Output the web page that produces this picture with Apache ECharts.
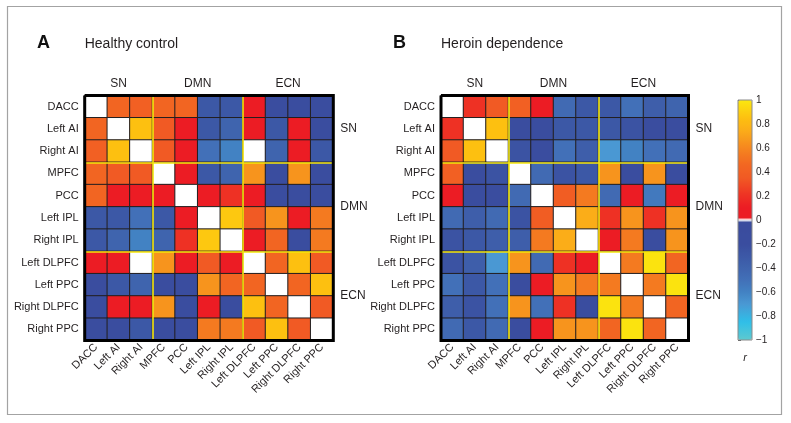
<!DOCTYPE html>
<html>
<head>
<meta charset="utf-8">
<script src="https://cdn.jsdelivr.net/npm/echarts@6/dist/echarts.min.js"></script>
<style>
html,body{margin:0;padding:0;background:#fff;}
#chart{width:791px;height:423px;}
</style>
</head>
<body>
<div id="chart"></div>
<script>
// ---------- DATA ----------
const regions = ['DACC','Left AI','Right AI','MPFC','PCC','Left IPL','Right IPL','Left DLPFC','Left PPC','Right DLPFC','Right PPC'];
const networks = ['SN','DMN','ECN'];
const networkSizes = [3,4,4];
const panelLetters = ['A','B'];
const panelTitles = ['Healthy control','Heroin dependence'];
const colorbarTicks = [-1,-0.8,-0.6,-0.4,-0.2,0,0.2,0.4,0.6,0.8,1];
const colorbarTitle = 'r';

// correlation matrices (rows top->bottom, cols left->right); 0 = white
const healthyControl = [
  [0, 0.45, 0.4, 0.45, 0.45, -0.3, -0.3, 0.1, -0.2, -0.2, -0.2],
  [0.45, 0, 0.85, 0.35, 0.1, -0.3, -0.4, 0.1, -0.3, 0.1, -0.2],
  [0.4, 0.85, 0, 0.35, 0.1, -0.5, -0.6, 0, -0.4, 0.1, -0.3],
  [0.45, 0.35, 0.35, 0, 0.1, -0.3, -0.4, 0.65, -0.2, 0.65, -0.2],
  [0.45, 0.1, 0.1, 0.1, 0, 0.1, 0.2, 0.1, -0.2, -0.2, -0.2],
  [-0.3, -0.3, -0.5, -0.3, 0.1, 0, 0.88, 0.35, 0.65, 0.1, 0.55],
  [-0.3, -0.4, -0.6, -0.4, 0.2, 0.88, 0, 0.1, 0.45, -0.2, 0.55],
  [0.1, 0.1, 0, 0.65, 0.1, 0.35, 0.1, 0, 0.45, 0.85, 0.35],
  [-0.2, -0.3, -0.4, -0.2, -0.2, 0.65, 0.45, 0.45, 0, 0.45, 0.85],
  [-0.2, 0.1, 0.1, 0.65, -0.2, 0.1, -0.2, 0.85, 0.45, 0, 0.35],
  [-0.2, -0.2, -0.3, -0.2, -0.2, 0.55, 0.55, 0.35, 0.85, 0.35, 0]
];
const heroinDependence = [
  [0, 0.2, 0.35, 0.4, 0.1, -0.45, -0.3, -0.3, -0.5, -0.35, -0.4],
  [0.2, 0, 0.85, -0.2, -0.2, -0.3, -0.3, -0.3, -0.25, -0.2, -0.2],
  [0.35, 0.85, 0, -0.25, -0.2, -0.5, -0.35, -0.7, -0.6, -0.5, -0.45],
  [0.4, -0.2, -0.25, 0, -0.45, -0.25, -0.3, 0.65, -0.2, 0.65, -0.2],
  [0.1, -0.2, -0.2, -0.45, 0, 0.38, 0.55, -0.45, 0.1, -0.55, 0.1],
  [-0.45, -0.35, -0.45, -0.25, 0.38, 0, 0.75, 0.2, 0.65, 0.2, 0.65],
  [-0.25, -0.3, -0.35, -0.35, 0.55, 0.75, 0, 0.1, 0.55, -0.2, 0.65],
  [-0.25, -0.35, -0.7, 0.65, -0.45, 0.2, 0.1, 0, 0.55, 0.98, 0.45],
  [-0.5, -0.3, -0.5, -0.2, 0.1, 0.65, 0.55, 0.55, 0, 0.55, 0.98],
  [-0.35, -0.25, -0.5, 0.65, -0.5, 0.2, -0.2, 0.98, 0.55, 0, 0.45],
  [-0.45, -0.3, -0.45, -0.2, 0.1, 0.65, 0.65, 0.45, 0.98, 0.45, 0]
];

// ---------- COLORMAP ----------
const cmapStops = [[-1,'#5ec9cf'],[-0.85,'#2fbfe8'],[-0.7,'#4a98d3'],[-0.6,'#4282c3'],[-0.5,'#4270b8'],[-0.4,'#3f64ae'],[-0.3,'#3c58a6'],[-0.2,'#3a4d9f'],[-0.01,'#3a4c9e'],[0,'#ffffff'],[0.01,'#ec1c24'],[0.1,'#ec1c24'],[0.2,'#ee3124'],[0.35,'#f15a24'],[0.45,'#f26522'],[0.55,'#f47a20'],[0.65,'#f7941d'],[0.75,'#fbad18'],[0.85,'#fdc010'],[1,'#fbe80f']];
function hex2rgb(h){return [parseInt(h.substr(1,2),16),parseInt(h.substr(3,2),16),parseInt(h.substr(5,2),16)];}
function cmap(v){
  for(let i=0;i<cmapStops.length-1;i++){
    const a=cmapStops[i], b=cmapStops[i+1];
    if(v>=a[0]-1e-9 && v<=b[0]+1e-9){
      const t=(b[0]===a[0])?0:(v-a[0])/(b[0]-a[0]);
      const ca=hex2rgb(a[1]), cb=hex2rgb(b[1]);
      const c=ca.map((x,k)=>Math.round(x+(cb[k]-x)*Math.max(0,Math.min(1,t))));
      return 'rgb('+c.join(',')+')';
    }
  }
  return cmapStops[cmapStops.length-1][1];
}
const cmapColors=[];
for(let k=0;k<=200;k++){cmapColors.push(cmap(Math.round((-1+k*0.01)*100)/100));}

// ---------- LAYOUT ----------
const FONT='"Liberation Sans", Arial, Helvetica, sans-serif';
const grids=[
  {left:84.7, top:95.5, width:248.6, height:245},
  {left:441, top:95.5, width:247.5, height:245}
];
const cbar={left:738, top:100, width:14, height:240};
const N=regions.length;

function toHeat(m){const d=[];for(let r=0;r<N;r++)for(let c=0;c<N;c++)d.push([c,r,m[r][c]]);return d;}

// block boundaries
const bounds=[];let acc=0;
for(let i=0;i<networkSizes.length-1;i++){acc+=networkSizes[i];bounds.push(acc);}
const sepLines=[];
bounds.forEach(b=>{sepLines.push({coords:[[b,0],[b,N]]});sepLines.push({coords:[[0,b],[N,b]]});});
const frameLine=[{coords:[[0,0],[N,0],[N,N],[0,N],[0,0]]}];

const xAxes=[],yAxes=[],series=[];
grids.forEach((g,gi)=>{
  xAxes.push({type:'category',gridIndex:gi,data:regions,position:'bottom',
    axisLine:{show:false},axisTick:{show:false},splitLine:{show:false},
    axisLabel:{rotate:45,fontSize:11,color:'#231f20',fontFamily:FONT,margin:5,interval:0}});
  yAxes.push({type:'category',gridIndex:gi,data:regions,inverse:true,
    axisLine:{show:false},axisTick:{show:false},splitLine:{show:false},
    axisLabel:{fontSize:11,color:'#231f20',fontFamily:FONT,margin:6,interval:0}});
});
grids.forEach((g,gi)=>{
  xAxes.push({type:'value',gridIndex:gi,min:0,max:N,show:false});
  yAxes.push({type:'value',gridIndex:gi,min:0,max:N,inverse:true,show:false});
});
// colorbar axis
xAxes.push({type:'value',gridIndex:2,min:0,max:1,show:false});
yAxes.push({type:'value',gridIndex:2,min:-1,max:1,interval:0.2,position:'right',
  axisLine:{show:false},splitLine:{show:false},
  axisTick:{show:true,length:3,lineStyle:{color:'#555',width:1}},
  axisLabel:{fontSize:10,color:'#231f20',fontFamily:FONT,margin:4,
    formatter:v=>{const r=Math.round(v*10)/10; if(r===0)return '0'; const s=Math.abs(r)===1?'1':Math.abs(r).toFixed(1); return (r<0?'\u2212':'')+s;}}});

[healthyControl,heroinDependence].forEach((m,gi)=>{
  series.push({type:'heatmap',xAxisIndex:gi,yAxisIndex:gi,data:toHeat(m),
    itemStyle:{borderColor:'#231f20',borderWidth:1},
    emphasis:{disabled:true},progressive:0,animation:false});
});
[0,1].forEach(gi=>{
  series.push({type:'lines',coordinateSystem:'cartesian2d',xAxisIndex:2+gi,yAxisIndex:2+gi,
    data:sepLines,lineStyle:{color:'#f4e60c',width:1.6,opacity:1,type:'solid'},silent:true,animation:false,z:5});
  series.push({type:'lines',coordinateSystem:'cartesian2d',polyline:true,xAxisIndex:2+gi,yAxisIndex:2+gi,
    data:frameLine,lineStyle:{color:'#000',width:3,opacity:1,join:'miter'},silent:true,animation:false,z:6});
});

// text annotations
const graphics=[];
graphics.push({type:'rect',shape:{x:7.5,y:6.5,width:774,height:408},style:{fill:'none',stroke:'#a3a3a3',lineWidth:1.2},silent:true});
const letterX=[37,393];
grids.forEach((g,gi)=>{
  graphics.push({type:'text',x:letterX[gi],y:43,style:{text:panelLetters[gi],font:'bold 18px '+FONT,fill:'#111',textVerticalAlign:'middle'}});
  graphics.push({type:'text',x:g.left,y:44,style:{text:panelTitles[gi],font:'14px '+FONT,fill:'#231f20',textVerticalAlign:'middle'}});
  const cw=g.width/N, ch=g.height/N;
  let start=0;
  networks.forEach((nm,ni)=>{
    const size=networkSizes[ni];
    const cx=g.left+(start+size/2-0.5*(ni===0?1:0)+(ni===0?0.5:0))*cw;
    graphics.push({type:'text',x:g.left+(start+size/2)*cw - (ni===0?0:0),y:g.top-12,
      style:{text:nm,font:'12px '+FONT,fill:'#231f20',textAlign:'center',textVerticalAlign:'middle'}});
    graphics.push({type:'text',x:g.left+g.width+7,y:g.top+(start+size/2)*ch,
      style:{text:nm,font:'12px '+FONT,fill:'#231f20',textAlign:'left',textVerticalAlign:'middle'}});
    start+=size;
  });
});
graphics.push({type:'text',x:cbar.left+cbar.width/2,y:cbar.top+cbar.height+18,style:{text:colorbarTitle,font:'italic 11px '+FONT,fill:'#231f20',textAlign:'center',textVerticalAlign:'middle'}});

const option={
  backgroundColor:'#fff',
  animation:false,
  grid:[
    {left:grids[0].left,top:grids[0].top,width:grids[0].width,height:grids[0].height,containLabel:false},
    {left:grids[1].left,top:grids[1].top,width:grids[1].width,height:grids[1].height,containLabel:false},
    {left:cbar.left,top:cbar.top,width:cbar.width,height:cbar.height,show:true,borderColor:'#8a8a8a',borderWidth:1,backgroundColor:'transparent',z:5}
  ],
  xAxis:xAxes,
  yAxis:yAxes,
  visualMap:{type:'continuous',min:-1,max:1,seriesIndex:[0,1],orient:'vertical',
    left:cbar.left,top:cbar.top,itemWidth:cbar.width,itemHeight:cbar.height,padding:0,
    calculable:false,text:null,showLabel:false,hoverLink:false,
    inRange:{color:cmapColors}},
  series:series,
  graphic:graphics
};
const chart=echarts.init(document.getElementById('chart'),null,{renderer:'canvas'});
chart.setOption(option);
</script>
</body>
</html>
